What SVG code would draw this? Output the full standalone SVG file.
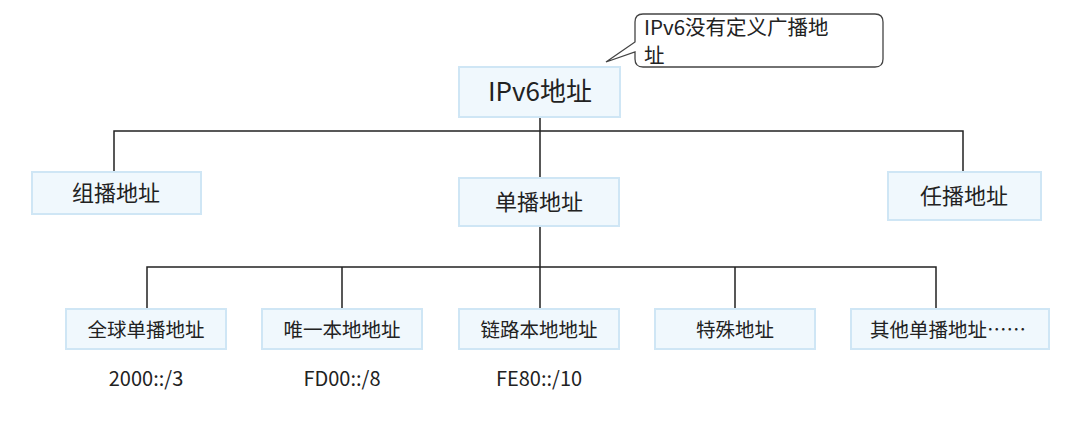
<svg xmlns="http://www.w3.org/2000/svg" width="1080" height="422" viewBox="0 0 1080 422">
<style>
.box{fill:#f0f8fd;stroke:#cfe6f5;stroke-width:2}
.t{font-family:"Noto Sans CJK SC","Noto Sans",sans-serif;fill:#222;text-anchor:middle}
.c{stroke:#222;stroke-width:1.5;fill:none}
</style>
<rect width="1080" height="422" fill="#fff"/>
<g id="callout">
<path d="M643,14 H875 Q883,14 883,22 V59 Q883,67 875,67 H643 Q635,67 635,59 V52 L606,62 L635,42 V22 Q635,14 643,14 Z" fill="#fff" stroke="#444" stroke-width="1.3"/>
<text class="t" x="644" y="35" font-size="20.5" style="text-anchor:start">IPv6没有定义广播地</text>
<text class="t" x="644" y="63" font-size="20.5" style="text-anchor:start">址</text>
</g>
<g id="connectors">
<path class="c" d="M540,117 V131 M114,172 V131 H963 V172 M540,131 V178"/>
<path class="c" d="M540,226 V267 M147,309 V267 H936 V309 M342,267 V309 M540,267 V309 M735,267 V309"/>
</g>
<g id="n-ipv6"><rect class="box" x="459" y="67" width="161" height="50"/><text class="t" x="540" y="101" font-size="26">IPv6地址</text></g>
<g id="n-multi"><rect class="box" x="32" y="172" width="169" height="42"/><text class="t" x="116" y="201" font-size="22">组播地址</text></g>
<g id="n-uni"><rect class="box" x="459" y="178" width="160" height="48"/><text class="t" x="539" y="210" font-size="22">单播地址</text></g>
<g id="n-any"><rect class="box" x="888" y="172" width="153" height="48"/><text class="t" x="964" y="204" font-size="22">任播地址</text></g>
<g id="n-global"><rect class="box" x="66" y="309" width="160" height="40"/><text class="t" x="146" y="337" font-size="19.5">全球单播地址</text></g>
<g id="n-ula"><rect class="box" x="262" y="309" width="160" height="40"/><text class="t" x="342" y="337" font-size="19.5">唯一本地地址</text></g>
<g id="n-link"><rect class="box" x="459" y="309" width="160" height="40"/><text class="t" x="539" y="337" font-size="19.5">链路本地地址</text></g>
<g id="n-special"><rect class="box" x="655" y="309" width="160" height="40"/><text class="t" x="735" y="337" font-size="19.5">特殊地址</text></g>
<g id="n-other"><rect class="box" x="851" y="309" width="198" height="40"/><text class="t" x="948" y="337" font-size="19.5">其他单播地址……</text></g>
<text class="t" x="146" y="386" font-size="20">2000::/3</text>
<text class="t" x="342" y="386" font-size="20">FD00::/8</text>
<text class="t" x="539" y="386" font-size="20">FE80::/10</text>
</svg>
